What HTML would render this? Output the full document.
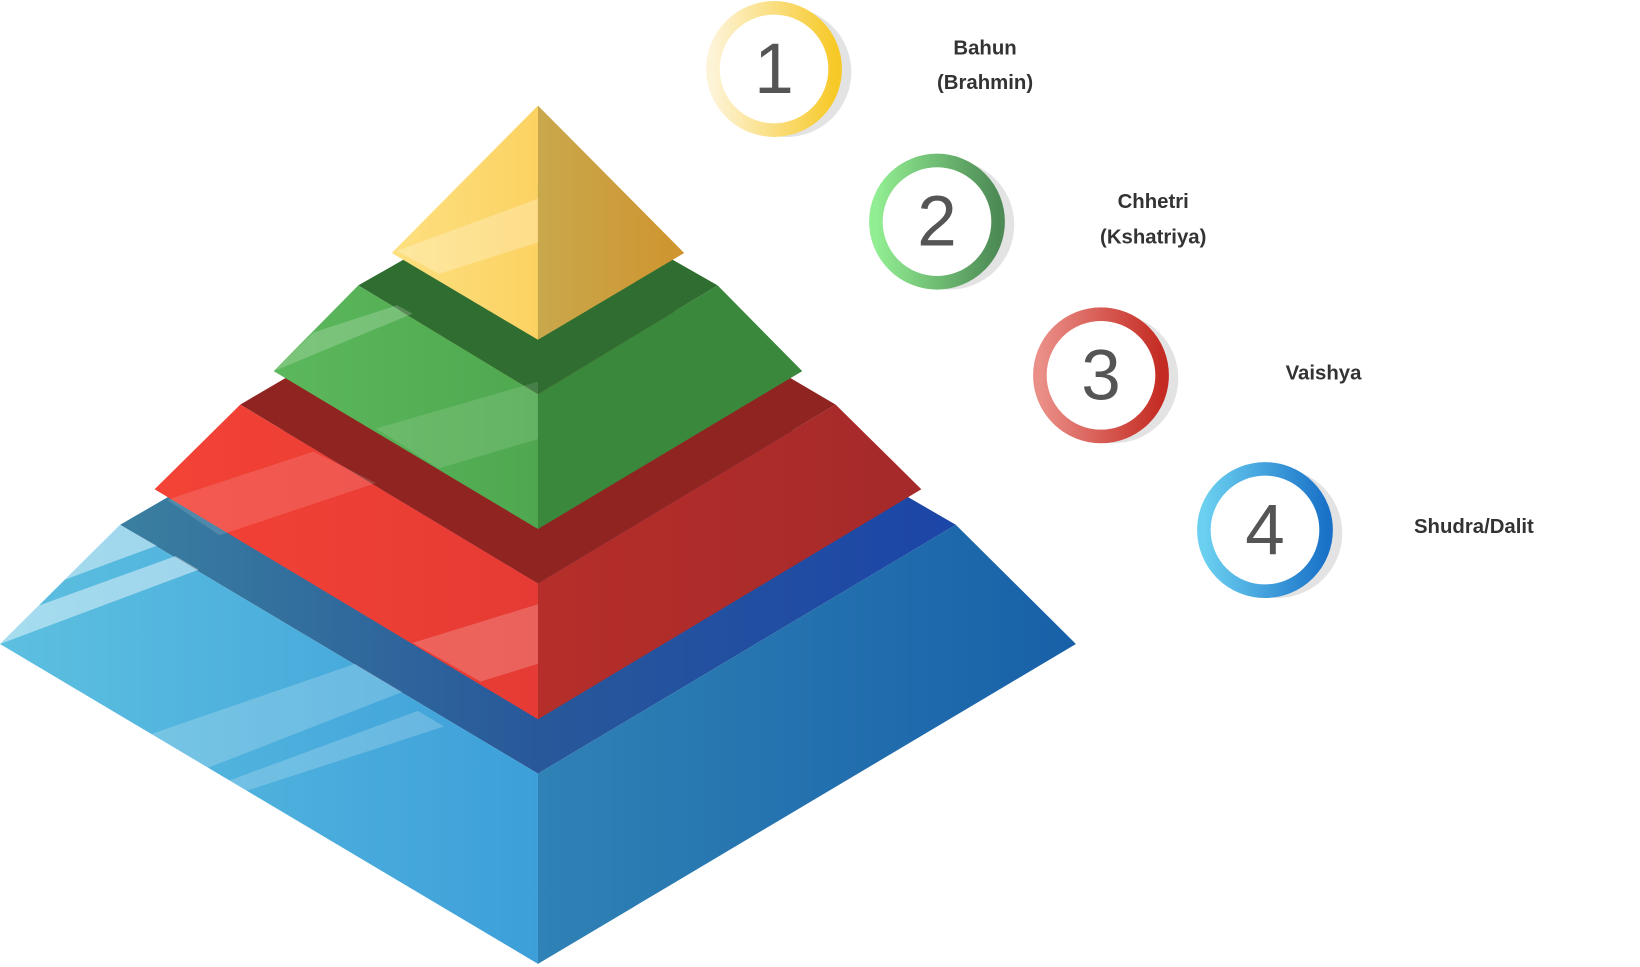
<!DOCTYPE html>
<html><head><meta charset="utf-8"><style>
html,body{margin:0;padding:0;background:#fff;width:1640px;height:967px;overflow:hidden}
svg{display:block}
text{font-family:"Liberation Sans","DejaVu Sans",sans-serif}
</style></head><body>
<svg width="1640" height="967" viewBox="0 0 1570 925" preserveAspectRatio="none" xmlns="http://www.w3.org/2000/svg">
<defs>
<linearGradient id="bl" x1="0" x2="1"><stop offset="0" stop-color="#5dc0e0"/><stop offset="1" stop-color="#3d9fd9"/></linearGradient>
<linearGradient id="br" x1="0" x2="1"><stop offset="0" stop-color="#2f82b5"/><stop offset="1" stop-color="#1860a8"/></linearGradient>
<linearGradient id="bt" x1="0" x2="1"><stop offset="0" stop-color="#3a7fa0"/><stop offset="0.5" stop-color="#28589a"/><stop offset="1" stop-color="#1c45a8"/></linearGradient>
<linearGradient id="rl" x1="0" x2="1"><stop offset="0" stop-color="#f44236"/><stop offset="1" stop-color="#e53b34"/></linearGradient>
<linearGradient id="rr" x1="0" x2="1"><stop offset="0" stop-color="#b52e2a"/><stop offset="1" stop-color="#a52a2a"/></linearGradient>
<linearGradient id="gl" x1="0" x2="1"><stop offset="0" stop-color="#5cb85c"/><stop offset="1" stop-color="#4fa84f"/></linearGradient>
<linearGradient id="yl" x1="0" x2="1"><stop offset="0" stop-color="#fde080"/><stop offset="1" stop-color="#fcd262"/></linearGradient>
<linearGradient id="yr" x1="0" x2="1"><stop offset="0" stop-color="#c9a84c"/><stop offset="1" stop-color="#cf942e"/></linearGradient>
<linearGradient id="c1" x1="0" x2="1"><stop offset="0" stop-color="#fdf3d6"/><stop offset="1" stop-color="#f7c928"/></linearGradient>
<linearGradient id="c2" x1="0" x2="1"><stop offset="0" stop-color="#92ee92"/><stop offset="1" stop-color="#4d8a55"/></linearGradient>
<linearGradient id="c3" x1="0" x2="1"><stop offset="0" stop-color="#ea8f88"/><stop offset="1" stop-color="#c42b22"/></linearGradient>
<linearGradient id="c4" x1="0" x2="1"><stop offset="0" stop-color="#6bd0f0"/><stop offset="1" stop-color="#1a72c8"/></linearGradient>
</defs>
<polygon points="115,502 515,270 915,502 515,740" fill="url(#bt)"/>
<polygon points="0,616 115,502 515,740 515,922" fill="url(#bl)"/>
<polygon points="515,922 1030,616 915,502 515,740" fill="url(#br)"/>
<polygon points="0,616 115,502 150,522 58,556 35,580 168,532 190,545" fill="#fff" opacity="0.45"/>
<polygon points="145,702 340,635 385,662 190,738" fill="#fff" opacity="0.2"/>
<polygon points="205,752 400,680 425,695 225,760" fill="#fff" opacity="0.2"/>
<polygon points="230,387 515,220 800,387 515,558" fill="#8f2420"/>
<polygon points="148,468 230,387 515,558 515,688" fill="url(#rl)"/>
<polygon points="515,688 882,468 800,387 515,558" fill="url(#rr)"/>
<polygon points="160,478 300,432 360,462 210,512" fill="#fff" opacity="0.13"/>
<polygon points="395,615 515,578 515,635 460,652" fill="#fff" opacity="0.2"/>
<polygon points="343,273 515,175 687,273 515,377" fill="#2f6e30"/>
<polygon points="262,355 343,273 515,377 515,506" fill="url(#gl)"/>
<polygon points="515,506 768,355 687,273 515,377" fill="#3a883c"/>
<polygon points="262,355 300,318 380,292 395,300" fill="#fff" opacity="0.2"/>
<polygon points="360,410 515,365 515,420 420,448" fill="#fff" opacity="0.12"/>
<polygon points="375,242 515,101 515,325" fill="url(#yl)"/>
<polygon points="515,101 655,242 515,325" fill="url(#yr)"/>
<polygon points="380,240 515,190 515,232 420,262" fill="#fff" opacity="0.25"/>
<g>
<circle cx="753" cy="69" r="62" fill="#e3e3e3"/><circle cx="741" cy="66" r="58.5" fill="#fff" stroke="url(#c1)" stroke-width="13"/>
<text x="741" y="89" font-size="68" fill="#555" text-anchor="middle">1</text>
<circle cx="909" cy="215" r="62" fill="#e3e3e3"/><circle cx="897" cy="212" r="58.5" fill="#fff" stroke="url(#c2)" stroke-width="13"/>
<text x="897" y="235" font-size="68" fill="#555" text-anchor="middle">2</text>
<circle cx="1066" cy="362" r="62" fill="#e3e3e3"/><circle cx="1054" cy="359" r="58.5" fill="#fff" stroke="url(#c3)" stroke-width="13"/>
<text x="1054" y="382" font-size="68" fill="#555" text-anchor="middle">3</text>
<circle cx="1223" cy="510" r="62" fill="#e3e3e3"/><circle cx="1211" cy="507" r="58.5" fill="#fff" stroke="url(#c4)" stroke-width="13"/>
<text x="1211" y="530" font-size="68" fill="#555" text-anchor="middle">4</text>
</g>
<g font-size="19.5" font-weight="bold" fill="#333" text-anchor="middle">
<text x="943" y="52">Bahun</text>
<text x="943" y="85">(Brahmin)</text>
<text x="1104" y="199">Chhetri</text>
<text x="1104" y="233">(Kshatriya)</text>
<text x="1267" y="363">Vaishya</text>
<text x="1411" y="510">Shudra/Dalit</text>
</g>
</svg>
</body></html>
